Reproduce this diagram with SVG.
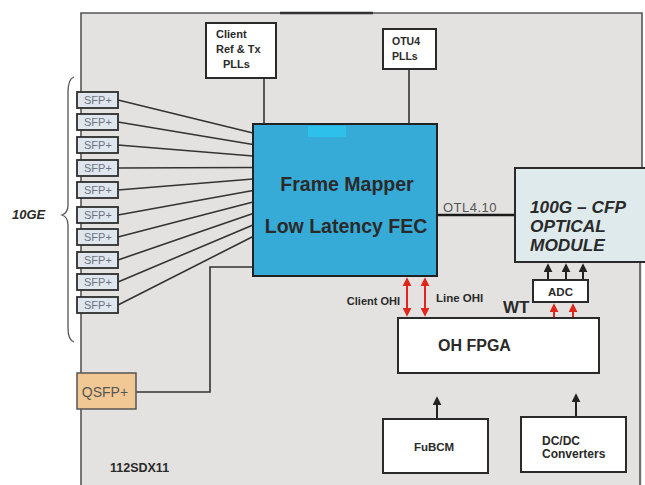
<svg xmlns="http://www.w3.org/2000/svg" width="645" height="485" viewBox="0 0 645 485">
<defs>
<style>
.box{fill:#ffffff;stroke:#2a2a2a;stroke-width:2}
.sfp{fill:#dfe6ee;stroke:#2e2e2e;stroke-width:1.8}
.sfpt{font-family:"Liberation Sans",Arial,sans-serif;font-size:11px;fill:#6c7382}
.lbl{font-family:"Liberation Sans",Arial,sans-serif;font-weight:bold;fill:#2a2a2a}
.wire{stroke:#333;stroke-width:1.6;fill:none}
.red{stroke:#e0251b;stroke-width:2;fill:none}
.blk{stroke:#222;stroke-width:2;fill:none}
</style>
<marker id="ra" viewBox="0 0 10 10" refX="8" refY="5" markerWidth="4.5" markerHeight="4.5" orient="auto-start-reverse"><path d="M0,0 L10,5 L0,10 z" fill="#e0251b"/></marker>
<marker id="ba" viewBox="0 0 10 10" refX="8" refY="5" markerWidth="4.5" markerHeight="4.5" orient="auto-start-reverse"><path d="M0,0 L10,5 L0,10 z" fill="#222"/></marker>
</defs>
<rect width="645" height="485" fill="#ffffff"/>
<g id="board">
<path d="M81,13 H642 V485 H81 Z" fill="#e3e2e0" stroke="none"/>
<path d="M81,485 V13 H642 V168 M640,262 V485" fill="none" stroke="#555" stroke-width="1.6"/>
<line x1="280" y1="13" x2="373" y2="13" stroke="#333" stroke-width="2.4"/>
<text class="lbl" x="110" y="472" font-size="12.5">112SDX11</text>
</g>
<g id="brace">
<path d="M74,77 Q68,79 68,92 V205 Q68,213 62,215 Q68,217 68,225 V328 Q68,340 74,342" fill="none" stroke="#555" stroke-width="1.3"/>
<text class="lbl" x="12" y="219" font-size="13" font-style="italic" fill="#333">10GE</text>
</g>
<g id="connectors">
<path class="wire" d="M118,100 L253,133 M118,122 L253,144.5 M118,145 L253,156 M118,168 L253,167.5 M118,190 L253,179 M118,215 L253,190.5 M118,237 L253,202 M118,260 L253,213.5 M118,282 L253,225 M118,305 L253,236.5"/>
<path class="wire" d="M136,392 H210 V267 H253"/>
<line class="wire" x1="264" y1="78" x2="264" y2="124"/>
<line class="wire" x1="409" y1="69" x2="409" y2="124"/>
<line x1="437" y1="215" x2="515" y2="215" stroke="#1a1a1a" stroke-width="2.6"/>
<line class="red" x1="407" y1="279" x2="407" y2="315" marker-start="url(#ra)" marker-end="url(#ra)"/>
<line class="red" x1="425" y1="279" x2="425" y2="315" marker-start="url(#ra)" marker-end="url(#ra)"/>
<line class="red" x1="554" y1="318" x2="554" y2="305" marker-end="url(#ra)"/>
<line class="red" x1="573" y1="318" x2="573" y2="305" marker-end="url(#ra)"/>
<line class="blk" x1="548" y1="280" x2="548" y2="265" marker-end="url(#ba)"/>
<line class="blk" x1="566" y1="280" x2="566" y2="265" marker-end="url(#ba)"/>
<line class="blk" x1="583" y1="280" x2="583" y2="265" marker-end="url(#ba)"/>
<line class="blk" x1="437" y1="419" x2="437" y2="398" marker-end="url(#ba)"/>
<line class="blk" x1="576" y1="417" x2="576" y2="395" marker-end="url(#ba)"/>
<text x="443" y="212" font-family="Liberation Sans,Arial,sans-serif" font-size="13" letter-spacing="0.5" fill="#555">OTL4.10</text>
<text class="lbl" x="400" y="305" font-size="11" text-anchor="end" fill="#444">Client OHI</text>
<text class="lbl" x="436" y="302" font-size="11.5" fill="#444">Line OHI</text>
<text class="lbl" x="503" y="313" font-size="17" fill="#222">WT</text>
</g>
<g id="sfp">
<rect class="sfp" x="77" y="92" width="41" height="16"/><text class="sfpt" x="84" y="104">SFP+</text>
<rect class="sfp" x="77" y="114" width="41" height="16"/><text class="sfpt" x="84" y="126">SFP+</text>
<rect class="sfp" x="77" y="137" width="41" height="16"/><text class="sfpt" x="84" y="149">SFP+</text>
<rect class="sfp" x="77" y="160" width="41" height="16"/><text class="sfpt" x="84" y="172">SFP+</text>
<rect class="sfp" x="77" y="182" width="41" height="16"/><text class="sfpt" x="84" y="194">SFP+</text>
<rect class="sfp" x="77" y="207" width="41" height="16"/><text class="sfpt" x="84" y="219">SFP+</text>
<rect class="sfp" x="77" y="229" width="41" height="16"/><text class="sfpt" x="84" y="241">SFP+</text>
<rect class="sfp" x="77" y="252" width="41" height="16"/><text class="sfpt" x="84" y="264">SFP+</text>
<rect class="sfp" x="77" y="274" width="41" height="16"/><text class="sfpt" x="84" y="286">SFP+</text>
<rect class="sfp" x="77" y="297" width="41" height="16"/><text class="sfpt" x="84" y="309">SFP+</text>
</g>
<g id="qsfp">
<rect x="77" y="373" width="59" height="36" fill="#f1c893" stroke="#555" stroke-width="1.5"/>
<text x="105" y="397" font-family="Liberation Sans,Arial,sans-serif" font-size="14" fill="#555" text-anchor="middle">QSFP+</text>
</g>
<g id="client-plls">
<rect class="box" x="206" y="23" width="70" height="55"/>
<text class="lbl" font-size="11"><tspan x="216" y="38">Client</tspan><tspan x="216" y="53">Ref &amp; Tx</tspan><tspan x="223" y="68">PLLs</tspan></text>
</g>
<g id="otu4-plls">
<rect class="box" x="383" y="29" width="53" height="40"/>
<text class="lbl" font-size="10.5"><tspan x="392" y="45">OTU4</tspan><tspan x="392" y="60">PLLs</tspan></text>
</g>
<g id="fec">
<rect x="253" y="124" width="184" height="152" fill="#37abd7" stroke="#222" stroke-width="2"/>
<rect x="308" y="126" width="38" height="11" fill="#2cc0ea"/>
<text class="lbl" x="347" y="191" font-size="19.5" text-anchor="middle" fill="#14304a">Frame Mapper</text>
<text class="lbl" x="346" y="233" font-size="19.5" text-anchor="middle" fill="#14304a">Low Latency FEC</text>
</g>
<g id="cfp">
<rect x="515" y="168" width="140" height="94" fill="#dfeaed" stroke="#2a2a2a" stroke-width="2"/>
<text class="lbl" font-size="17.3" font-style="italic" fill="#222"><tspan x="530" y="213">100G – CFP</tspan><tspan x="530" y="232">OPTICAL</tspan><tspan x="530" y="251">MODULE</tspan></text>
</g>
<g id="adc">
<rect class="box" x="533" y="280" width="55" height="22"/>
<text class="lbl" x="560.5" y="295.5" font-size="11.5" text-anchor="middle">ADC</text>
</g>
<g id="oh-fpga">
<rect class="box" x="398" y="318" width="201" height="55"/>
<text class="lbl" x="438" y="351" font-size="16">OH FPGA</text>
</g>
<g id="fubcm">
<rect class="box" x="383" y="419" width="105" height="54"/>
<text class="lbl" x="434" y="451" font-size="11.5" text-anchor="middle">FuBCM</text>
</g>
<g id="dcdc">
<rect class="box" x="521" y="417" width="105" height="55"/>
<text class="lbl" font-size="12"><tspan x="542" y="445">DC/DC</tspan><tspan x="542" y="458">Converters</tspan></text>
</g>
</svg>
